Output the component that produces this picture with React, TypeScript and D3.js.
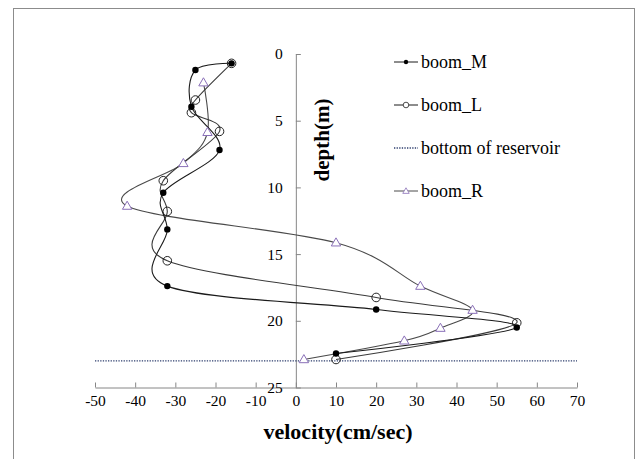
import { useEffect, useRef } from "react"
import * as d3 from "d3"

// velocity (cm/sec) and depth (m)
const boomMVelocity = [-16, -25, -26, -19, -33, -32, -32, 20, 55, 10]
const boomMDepth = [0.7, 1.2, 3.95, 7.2, 10.4, 13.15, 17.4, 19.15, 20.5, 22.45]

const boomLVelocity = [-16, -25, -26, -19, -33, -32, -32, 20, 55, 10]
const boomLDepth = [0.7, 3.45, 4.4, 5.8, 9.5, 11.8, 15.5, 18.25, 20.15, 22.9]

const boomRVelocity = [-23, -22, -28, -42, 10, 31, 44, 36, 27, 2]
const boomRDepth = [2.15, 5.87, 8.2, 11.4, 14.15, 17.4, 19.2, 20.55, 21.5, 22.9]

const reservoirBottom = 23

const xTicks = [-50, -40, -30, -20, -10, 0, 10, 20, 30, 40, 50, 60, 70]
const yTicks = [0, 5, 10, 15, 20, 25]

const legendNames = ["boom_M", "boom_L", "bottom of reservoir", "boom_R"]

const FONT = "'Liberation Serif', 'Times New Roman', serif"
const PURPLE = "#8a70b8"

const App = () => {
  const svgRef = useRef()

  useEffect(() => {
    const svg = d3.select(svgRef.current)
    svg.selectAll("*").remove()

    const width = 636
    const height = 459

    const x = d3.scaleLinear().domain([-50, 70]).range([95, 577])
    const y = d3.scaleLinear().domain([0, 25]).range([54, 387.5])

    // outer frame
    svg.append("rect")
      .attr("x", 13.5).attr("y", 8.5)
      .attr("width", 621).attr("height", 460)
      .attr("fill", "none").attr("stroke", "#8c8c8c").attr("stroke-width", 1)

    //X axis
    const xAxis = svg.append("g")
      .attr("transform", `translate(0, ${y(25)})`)
      .call(d3.axisBottom(x).tickValues(xTicks).tickFormat(d => String(d))
        .tickSizeInner(-5).tickSizeOuter(0).tickPadding(7))
    xAxis.select(".domain").attr("stroke", "#868686")
    xAxis.selectAll(".tick line").attr("stroke", "#868686")
    xAxis.selectAll(".tick text")
      .style("font-family", FONT).style("font-size", "15.5px").attr("fill", "#000")

    //Y axis sits at velocity 0, ticks pointing right
    const yAxis = svg.append("g")
      .attr("transform", `translate(${x(0)}, 0)`)
      .call(d3.axisRight(y).tickValues(yTicks).tickFormat(d => String(d)).tickSizeInner(5).tickSizeOuter(0))
    yAxis.select(".domain").attr("stroke", "#868686")
    yAxis.selectAll(".tick line").attr("stroke", "#868686")
    yAxis.selectAll(".tick text")
      .attr("x", -13)
      .attr("text-anchor", "end")
      .style("font-family", FONT).style("font-size", "15.5px").attr("fill", "#000")

    // bottom of reservoir
    svg.append("line")
      .attr("x1", x(-50)).attr("x2", x(70))
      .attr("y1", y(reservoirBottom)).attr("y2", y(reservoirBottom))
      .attr("stroke", "#2e3f6e").attr("stroke-width", 1.3)
      .attr("stroke-dasharray", "1.3,1.3")

    const line = d3.line()
      .x(d => x(d[0]))
      .y(d => y(d[1]))
      .curve(d3.curveCardinal.tension(0))

    const series = [
      { pts: d3.zip(boomRVelocity, boomRDepth), stroke: "#4a4a4a" },
      { pts: d3.zip(boomLVelocity, boomLDepth), stroke: "#3a3a3a" },
      { pts: d3.zip(boomMVelocity, boomMDepth), stroke: "#1a1a1a" },
    ]
    series.forEach(s => {
      svg.append("path")
        .datum(s.pts)
        .attr("fill", "none")
        .attr("stroke", s.stroke)
        .attr("stroke-width", 1.1)
        .attr("d", line)
    })

    const tri = d3.symbol().type(d3.symbolTriangle).size(38)

    // markers
    svg.selectAll(".mR")
      .data(d3.zip(boomRVelocity, boomRDepth))
      .enter().append("path")
      .attr("transform", d => `translate(${x(d[0])}, ${y(d[1]) + 0.5})`)
      .attr("d", tri)
      .attr("fill", "#fff").attr("stroke", PURPLE).attr("stroke-width", 1)

    svg.selectAll(".mL")
      .data(d3.zip(boomLVelocity, boomLDepth))
      .enter().append("circle")
      .attr("cx", d => x(d[0])).attr("cy", d => y(d[1]))
      .attr("r", 4.3)
      .attr("fill", "none").attr("stroke", "#222").attr("stroke-width", 1)

    svg.selectAll(".mM")
      .data(d3.zip(boomMVelocity, boomMDepth))
      .enter().append("circle")
      .attr("cx", d => x(d[0])).attr("cy", d => y(d[1]))
      .attr("r", 3.2)
      .attr("fill", "#000")

    //Axis titles
    svg.append("text")
      .attr("x", 338).attr("y", 439)
      .attr("text-anchor", "middle")
      .style("font-family", FONT).style("font-size", "22px").attr("font-weight", "bold")
      .text("velocity(cm/sec)")

    svg.append("text")
      .attr("transform", "translate(329, 140) rotate(-90)")
      .attr("text-anchor", "middle")
      .style("font-family", FONT).style("font-size", "21px").attr("font-weight", "bold")
      .text("depth(m)")

    //Legend
    const legend = svg.selectAll(".legend")
      .data(legendNames)
      .enter().append("g")
      .attr("class", "legend")
      .attr("transform", (d, i) => `translate(394, ${62 + i * 43})`)

    legend.append("line")
      .attr("x1", 0).attr("x2", 24).attr("y1", 0).attr("y2", 0)
      .attr("stroke", (d, i) => i === 2 ? "#2e3f6e" : i === 3 ? "#4a4a4a" : "#1a1a1a")
      .attr("stroke-width", (d, i) => i === 2 ? 1.3 : 1)
      .attr("stroke-dasharray", (d, i) => i === 2 ? "1.3,1.3" : null)

    legend.append("text")
      .attr("x", 27).attr("y", 0).attr("dy", "0.33em")
      .style("font-family", FONT).style("font-size", "18px").attr("fill", "#000")
      .text(d => d)

    legend.filter((d, i) => i === 0).append("circle")
      .attr("cx", 12).attr("cy", 0).attr("r", 2.2).attr("fill", "#000")
    legend.filter((d, i) => i === 1).append("circle")
      .attr("cx", 12).attr("cy", 0).attr("r", 2.8)
      .attr("fill", "#fff").attr("stroke", "#222").attr("stroke-width", 0.8)
    legend.filter((d, i) => i === 3).append("path")
      .attr("transform", "translate(12, 0.5)")
      .attr("d", d3.symbol().type(d3.symbolTriangle).size(18))
      .attr("fill", "#fff").attr("stroke", PURPLE).attr("stroke-width", 0.8)

    svg.attr("width", width).attr("height", height)
  }, [])

  return (
    <svg ref={svgRef} style={{ position: "absolute", left: 0, top: 0, background: "#fff" }}></svg>
  )
}

export default App
